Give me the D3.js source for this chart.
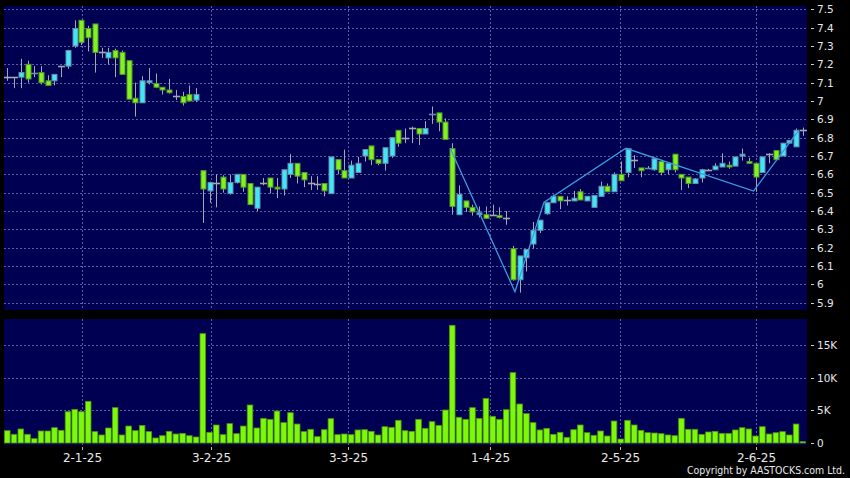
<!DOCTYPE html>
<html><head><meta charset="utf-8">
<script src="https://cdn.jsdelivr.net/npm/d3@7/dist/d3.min.js"></script>
<style>html,body{margin:0;padding:0;background:#000;}svg{display:block;}</style>
</head><body>
<svg id="c" width="850" height="478"></svg>
<script>
// ---- data ----
const opens  = [7.13,7.13,7.13,7.20,7.15,7.155,7.11,7.11,7.19,7.19, 7.30,7.44,7.395,7.42,7.265,7.235,7.275,7.265,7.22,7.015, 6.99,7.10,7.095,7.075,7.06,7.025,7.025,7.035,7.005,6.62, 6.51,6.555,6.585,6.495,6.555,6.60,6.55,6.415,6.555,6.58, 6.53,6.52,6.60,6.66,6.61,6.555,6.55,6.55,6.495,6.68, 6.62,6.58,6.61,6.70,6.755,6.68,6.66,6.70,6.84,6.80, 6.85,6.85,6.82,6.925,6.935,6.885,6.74,6.38,6.455,6.42, 6.38,6.38,6.378,6.375,6.36,6.195,6.025,6.145,6.22,6.295, 6.385,6.445,6.48,6.46,6.455,6.505,6.455,6.42,6.48,6.535, 6.505,6.60,6.61,6.68,6.635,6.63,6.625,6.67,6.625,6.71, 6.60,6.585,6.55,6.58,6.625,6.625,6.64,6.65,6.645,6.70, 6.67,6.66,6.61,6.71,6.73,6.70,6.77,6.75,6.84];
const highs  = [7.18,7.13,7.23,7.22,7.19,7.19,7.14,7.145,7.19,7.28, 7.44,7.44,7.41,7.42,7.29,7.29,7.285,7.275,7.22,7.10, 7.135,7.18,7.15,7.075,7.12,7.06,7.05,7.085,7.07,6.62, 6.56,6.60,6.595,6.60,6.60,6.60,6.55,6.53,6.58,6.58, 6.58,6.625,6.71,6.66,6.61,6.59,6.59,6.55,6.695,6.68, 6.735,6.675,6.695,6.735,6.755,6.68,6.745,6.80,6.84,6.85, 6.86,6.85,6.89,6.97,6.935,6.905,6.77,6.54,6.455,6.435, 6.425,6.425,6.435,6.42,6.40,6.21,6.155,6.19,6.34,6.35, 6.45,6.49,6.48,6.48,6.51,6.52,6.48,6.485,6.56,6.55, 6.61,6.67,6.74,6.705,6.635,6.645,6.69,6.67,6.66,6.71, 6.60,6.585,6.58,6.63,6.63,6.66,6.715,6.67,6.695,6.74, 6.69,6.66,6.695,6.715,6.73,6.77,6.785,6.85,6.855];
const lows   = [7.11,7.07,7.07,7.10,7.13,7.09,7.085,7.085,7.13,7.175, 7.29,7.305,7.27,7.155,7.235,7.20,7.13,7.145,7.01,6.915, 6.99,7.09,7.07,7.035,7.04,7.005,6.975,7.0,6.995,6.335, 6.445,6.42,6.50,6.49,6.55,6.505,6.435,6.40,6.54,6.495, 6.47,6.485,6.58,6.55,6.53,6.515,6.515,6.48,6.495,6.60, 6.58,6.58,6.61,6.67,6.65,6.65,6.62,6.69,6.75,6.77, 6.77,6.76,6.82,6.875,6.835,6.79,6.38,6.38,6.395,6.375, 6.365,6.36,6.378,6.36,6.325,6.02,5.955,6.07,6.195,6.28, 6.38,6.445,6.41,6.43,6.455,6.46,6.455,6.42,6.48,6.505, 6.505,6.565,6.585,6.635,6.585,6.63,6.62,6.595,6.60,6.61, 6.515,6.525,6.55,6.555,6.62,6.625,6.64,6.63,6.645,6.675, 6.66,6.505,6.61,6.66,6.68,6.70,6.77,6.75,6.81];
const closes = [7.13,7.13,7.155,7.12,7.155,7.10,7.085,7.145,7.19,7.275, 7.395,7.32,7.345,7.265,7.265,7.265,7.235,7.145,7.01,6.99, 7.11,7.11,7.075,7.06,7.045,7.025,6.99,7.0,7.035,6.52, 6.555,6.555,6.52,6.555,6.60,6.53,6.435,6.53,6.555,6.53, 6.52,6.625,6.66,6.59,6.57,6.555,6.55,6.51,6.695,6.625, 6.58,6.65,6.66,6.735,6.68,6.66,6.745,6.80,6.77,6.80, 6.85,6.82,6.85,6.93,6.885,6.79,6.425,6.49,6.42,6.395, 6.39,6.36,6.378,6.365,6.36,6.025,6.155,6.19,6.295,6.35, 6.445,6.48,6.455,6.46,6.47,6.46,6.48,6.485,6.535,6.505, 6.60,6.565,6.74,6.68,6.62,6.635,6.685,6.61,6.66,6.625, 6.58,6.55,6.575,6.625,6.625,6.645,6.66,6.64,6.695,6.71, 6.66,6.585,6.695,6.71,6.68,6.77,6.785,6.84,6.84];
const volumes = [1890,1330,2150,1330,660,1840,1840,2350,1940,4800, 5160,4800,6390,1740,1230,2300,5420,1230,2600,1890, 2700,1740,770,1120,1790,1380,1480,1120,920,16770, 1640,2760,1280,2970,1430,2600,5830,2300,3780,3630, 4900,3120,4650,2910,1740,2100,970,2040,3730,1280, 1380,1280,2000,2040,1790,1230,2500,2400,3480,1890, 1790,3630,2250,3270,2700,5060,18050,3940,3630,5420, 3780,6850,4090,3630,5110,10790,5980,4500,3120,2000, 2250,1330,1640,870,2040,2760,1580,1180,1840,1070, 3370,610,3480,2760,1940,1580,1530,1430,1230,1120, 3780,2100,2100,1330,1690,1790,1480,1480,2000,2350, 2150,1070,2500,1380,1580,1740,1230,2910,200];
// zigzag overlay (bar position, price)
const zigIdx = [65.7, 75.3, 79.6, 91.75, 110.7, 117.4];
const zigVal = [6.742, 5.96, 6.447, 6.742, 6.509, 6.84];
// x-axis labels and their bar positions
const tickLabels = ["2-1-25","3-2-25","3-3-25","1-4-25","2-5-25","2-6-25"];
const tickIdx = [11.1, 30.2, 50.5, 71.6, 90.9, 111];
const priceTicks = [5.9,6,6.1,6.2,6.3,6.4,6.5,6.6,6.7,6.8,6.9,7,7.1,7.2,7.3,7.4,7.5];
const volTicks = [0,5000,10000,15000];

// ---- layout ----
const svg = d3.select("#c");
const L = 4, R = 807;
const pTop = 6, pBot = 310, vTop = 319, vBot = 445;
const n = opens.length;
const x = d3.scaleLinear().domain([0, n-1]).range([7.3, 802.8]);
const yP = d3.scaleLinear().domain([5.9, 7.5]).range([302.7, 9.3]);
const yV = d3.scaleLinear().domain([0, 15000]).range([443, 345.2]);
const font = "DejaVu Sans, Verdana, sans-serif";
const navy = "#000052", grid = "#5c5ca8";
const GREEN = "#84f21e", GREEN_S = "#4f9a2c", CYAN = "#3ee6f6", CYAN_S = "#6a8cab", WICK = "#a4a8b0";

svg.append("rect").attr("width",850).attr("height",478).attr("fill","#000");
svg.append("rect").attr("x",L).attr("y",pTop).attr("width",R-L).attr("height",pBot-pTop).attr("fill",navy);
svg.append("rect").attr("x",L).attr("y",vTop).attr("width",R-L).attr("height",vBot-vTop).attr("fill",navy);

// horizontal grid
const g = svg.append("g").attr("stroke",grid).attr("stroke-width",1).attr("stroke-dasharray","2,2");
priceTicks.forEach(t => { const yy = Math.round(yP(t))+0.5;
  g.append("line").attr("x1",L).attr("x2",R).attr("y1",yy).attr("y2",yy); });
volTicks.slice(1).forEach(t => { const yy = Math.round(yV(t))+0.5;
  g.append("line").attr("x1",L).attr("x2",R).attr("y1",yy).attr("y2",yy); });
// vertical grid
tickIdx.forEach(i => { const xx = Math.round(x(i))+0.5;
  g.append("line").attr("x1",xx).attr("x2",xx).attr("y1",pTop).attr("y2",pBot);
  g.append("line").attr("x1",xx).attr("x2",xx).attr("y1",vTop).attr("y2",vBot); });

// candles
const bw = 5;
const cg = svg.append("g");
d3.range(n).forEach(i => {
  const cx = Math.round(x(i)) + 0.5;
  cg.append("line").attr("x1",cx).attr("x2",cx).attr("y1",yP(highs[i])).attr("y2",yP(lows[i]))
    .attr("stroke",WICK).attr("stroke-width",1);
  const o = opens[i], c = closes[i];
  const top = yP(Math.max(o,c)), bot = yP(Math.min(o,c));
  if (Math.abs(bot-top) < 1.2) {
    cg.append("line").attr("x1",cx-3.5).attr("x2",cx+3.5).attr("y1",Math.round(top)+0.5).attr("y2",Math.round(top)+0.5)
      .attr("stroke", o===c ? WICK : (c>o ? CYAN_S : GREEN_S)).attr("stroke-width",1.6);
  } else {
    cg.append("rect").attr("x",cx-bw/2).attr("y",top).attr("width",bw).attr("height",bot-top)
      .attr("fill", c>o ? CYAN : GREEN).attr("stroke", c>o ? CYAN_S : GREEN_S).attr("stroke-width",1);
  }
});

// zigzag
const zig = d3.line().x(d => x(d[0])).y(d => yP(d[1]));
svg.append("path").datum(zigIdx.map((d,k)=>[d, zigVal[k]])).attr("d",zig)
  .attr("fill","none").attr("stroke","#3a9ee0").attr("stroke-width",1.3);

// volume bars
const vg = svg.append("g");
volumes.forEach((v,i) => {
  const cx = x(i);
  vg.append("rect").attr("x",cx-2.8).attr("y",yV(v)).attr("width",5.6).attr("height",Math.max(0.8, yV(0)-yV(v)))
    .attr("fill","#7ef80a").attr("stroke","#4a9410").attr("stroke-width",0.8);
});

// right axes
const ax = svg.append("g").attr("font-family",font).attr("fill","#e8e8e8");
priceTicks.forEach(t => { const yy = Math.round(yP(t))+0.5;
  ax.append("line").attr("x1",811).attr("x2",814).attr("y1",yy).attr("y2",yy).attr("stroke","#cfcfcf");
  ax.append("text").attr("x",817).attr("y",yy).attr("dy","0.36em").attr("font-size",10.5).text(d3.format("")(t)); });
const vfmt = v => v===0 ? "0" : (v/1000)+"K";
volTicks.forEach(t => { const yy = Math.round(yV(t))+0.5;
  ax.append("line").attr("x1",811).attr("x2",814).attr("y1",yy).attr("y2",yy).attr("stroke","#cfcfcf");
  ax.append("text").attr("x",817).attr("y",yy).attr("dy","0.36em").attr("font-size",10.5).text(vfmt(t)); });

// x axis
tickIdx.forEach((i,k) => { const xx = Math.round(x(i))+0.5;
  ax.append("line").attr("x1",xx).attr("x2",xx).attr("y1",447).attr("y2",450).attr("stroke","#bbbbbb");
  ax.append("text").attr("x",xx).attr("y",462).attr("text-anchor","middle").attr("font-size",12).text(tickLabels[k]); });

ax.append("text").attr("x",845).attr("y",473.5).attr("text-anchor","end").attr("font-size",10)
  .attr("textLength",158).attr("lengthAdjust","spacingAndGlyphs").text("Copyright by AASTOCKS.com Ltd.");
</script>
</body></html>
